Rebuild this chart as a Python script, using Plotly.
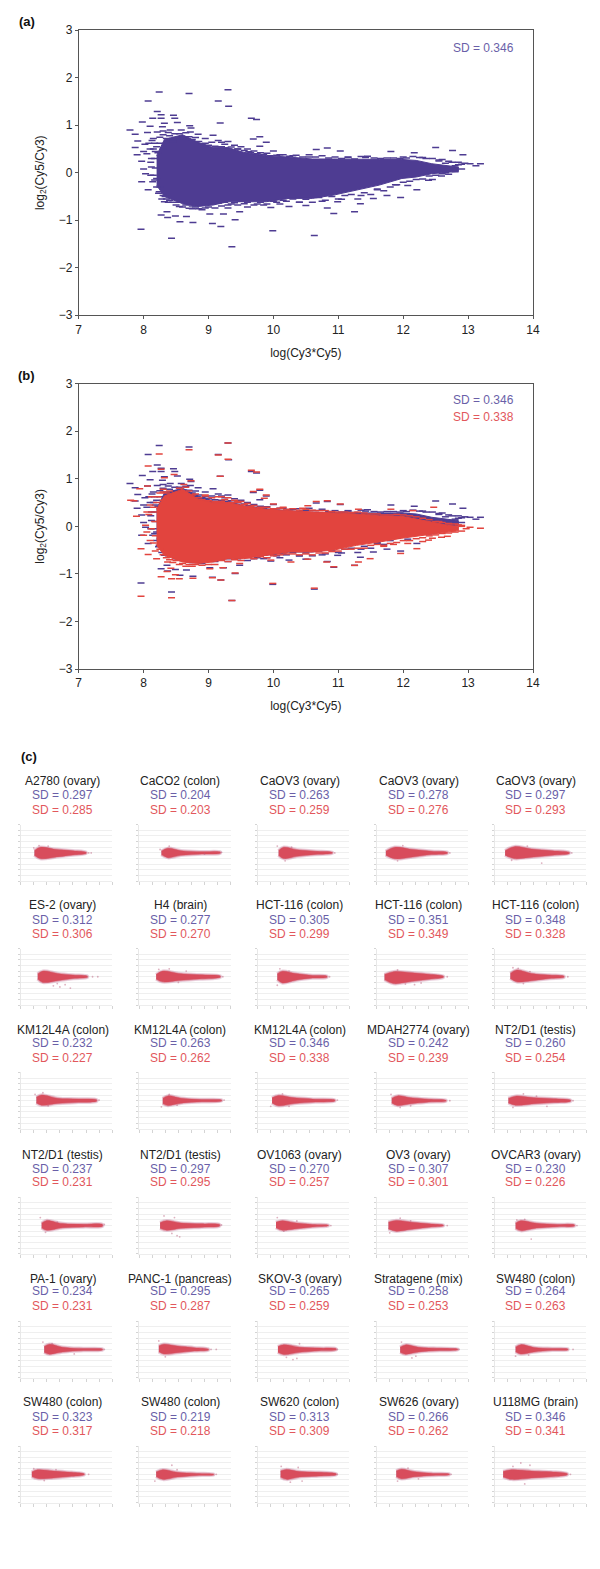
import plotly.graph_objects as go

W, H = 600, 1569
BLUE = "#4e3c92"
RED = "#e2443e"
BLUE_T = "#6a5fa8"
RED_T = "#e2575c"
P_RED = "#d84c5c"

# ---------- panels (a) and (b): dense cloud outlines ----------
blue_env_x = [8.2, 8.32, 8.6, 8.84, 9.07, 9.3, 9.54, 9.89, 10.24, 10.6, 10.93, 11.28, 11.63, 11.98, 12.2, 12.44, 12.68, 12.85]
blue_env_up = [0.36, 0.70, 0.80, 0.64, 0.53, 0.53, 0.43, 0.36, 0.33, 0.29, 0.29, 0.28, 0.28, 0.28, 0.26, 0.19, 0.15, 0.12]
blue_env_lo = [-0.26, -0.50, -0.65, -0.71, -0.68, -0.61, -0.61, -0.61, -0.54, -0.54, -0.47, -0.37, -0.26, -0.12, -0.09, -0.02, 0.01, 0.03]

red_env_x = [8.2, 8.32, 8.6, 8.84, 9.07, 9.3, 9.54, 9.89, 10.24, 10.6, 10.93, 11.28, 11.63, 11.98, 12.2, 12.44, 12.68, 12.85]
red_env_up = [0.36, 0.64, 0.78, 0.57, 0.50, 0.50, 0.43, 0.36, 0.33, 0.30, 0.28, 0.26, 0.22, 0.21, 0.16, 0.09, 0.02, 0.00]
red_env_lo = [-0.40, -0.61, -0.75, -0.78, -0.75, -0.68, -0.68, -0.61, -0.54, -0.54, -0.50, -0.40, -0.33, -0.25, -0.20, -0.16, -0.12, -0.09]

# ---------- panels (a) and (b): individual outlying spots ----------
blue_x = [8.24, 8.70, 9.30, 9.15, 8.07, 9.31, 8.21, 8.27, 8.46, 8.48, 8.27, 8.14, 9.66, 9.74, 7.98, 8.32, 9.18, 8.52, 8.10, 8.29,
          8.71, 8.73, 7.79, 8.21, 8.06, 7.87, 8.41, 8.58, 8.72, 8.84, 9.07, 9.79, 9.69, 9.89, 9.79, 10.0, 10.66, 10.83, 11.03, 11.81,
          12.17, 12.5, 12.76, 12.92, 13.03, 13.19, 13.12, 12.85, 7.96, 8.43, 9.36, 9.99, 10.63, 8.27, 8.36, 8.37, 8.49, 8.56, 8.76, 8.66,
          9.06, 9.19, 9.41, 9.02, 9.23, 9.48, 10.93, 11.25, 10.83, 10.99, 11.34, 10.5, 10.24, 9.96, 11.96, 12.21, 12.07, 11.75, 11.54, 12.39,
          12.59, 7.97, 8.07, 8.0, 8.03, 7.9, 7.87, 7.91, 7.97, 8.11, 8.11, 8.14, 8.23, 8.32, 8.55, 8.75,
          8.02, 8.15, 8.18, 8.12, 8.2, 8.3, 8.38, 8.45, 8.62, 8.95, 9.2, 9.45, 9.62, 10.1, 10.3, 10.55, 11.15, 11.42, 12.0, 12.3,
          12.55, 12.7, 12.9, 12.65, 12.45, 11.88, 11.6, 11.35, 11.05, 10.75, 10.4, 10.1, 9.75, 9.6, 9.3, 8.9]
blue_y = [1.70, 1.67, 1.75, 1.51, 1.51, 1.40, 1.29, 1.22, 1.21, 1.15, 1.15, 1.15, 1.15, 1.12, 1.07, 1.04, 1.05, 1.06, 0.98, 0.97,
          0.99, 0.94, 0.90, 0.86, 0.85, 0.81, 0.90, 0.90, 0.86, 0.81, 0.79, 0.76, 0.71, 0.64, 0.56, 0.46, 0.49, 0.52, 0.46, 0.45,
          0.42, 0.53, 0.47, 0.38, 0.19, 0.19, 0.15, 0.17, -1.19, -1.38, -1.56, -1.22, -1.32, -0.89, -0.82, -0.94, -0.91, -1.03, -1.05, -0.92,
          -1.07, -1.13, -0.99, -0.87, -0.87, -0.82, -0.86, -0.82, -0.74, -0.61, -0.65, -0.69, -0.71, -0.73, -0.52, -0.36, -0.27, -0.48, -0.54, -0.16,
          -0.07, -0.19, -0.36, 0.08, -0.02, 0.38, 0.53, 0.67, 0.24, 0.22, -0.05, -0.19, -0.43, -0.61, -0.71, -0.76,
          0.60, 0.72, 0.45, 0.30, -0.12, 0.88, -0.62, 0.72, 0.76, 0.62, 0.64, 0.50, 0.44, 0.38, 0.36, 0.33, 0.33, 0.32, 0.33, 0.32,
          0.27, 0.24, 0.18, 0.00, -0.14, -0.25, -0.36, -0.48, -0.56, -0.60, -0.62, -0.66, -0.66, -0.72, -0.74, -0.78]

blue_edge_x = [8.25, 8.3, 8.35, 8.4, 8.45, 8.5, 8.55, 8.6, 8.65, 8.7, 8.75, 8.8, 8.85, 8.9, 8.95, 9.0, 9.05, 9.1, 9.15, 9.2, 9.25, 9.3, 9.35, 9.4, 9.45, 9.5, 9.55, 9.6, 9.65, 9.7, 9.75, 9.8, 9.85, 9.9, 9.95, 10.05, 10.15, 10.25, 10.35, 10.45, 10.55, 10.65, 10.75, 10.85, 10.95, 11.05, 11.15, 11.25, 11.35, 11.45, 11.55, 11.65, 11.75, 11.85, 11.95, 12.05, 12.15, 12.25, 12.35, 12.45, 12.55, 12.6, 12.65, 12.75, 12.8, 12.85, 12.95,
               8.25, 8.3, 8.35, 8.4, 8.45, 8.5, 8.55, 8.6, 8.65, 8.7, 8.75, 8.8, 8.85, 8.9, 8.95, 9.0, 9.05, 9.1, 9.15, 9.2, 9.25, 9.3, 9.35, 9.4, 9.45, 9.5, 9.55, 9.6, 9.7, 9.8, 9.85, 9.9, 10.0, 10.05, 10.15, 10.2, 10.3, 10.4, 10.5, 10.6, 10.7, 10.8, 10.9, 11.0, 11.1, 11.2, 11.3, 11.4, 11.5, 11.6, 11.7, 11.8, 11.9, 12.0, 12.1, 12.2, 12.3, 12.4, 12.5, 12.6, 12.7, 12.8, 12.9,
               8.15, 8.17, 8.18, 8.15, 8.17, 8.12, 8.2, 8.22, 8.2, 8.05, 8.1, 8.0, 8.08, 8.13, 8.17, 8.25, 8.3, 8.38, 8.48, 8.24, 8.28, 8.33]
blue_edge_y = [0.62, 0.5, 0.72, 0.78, 0.66, 0.74, 0.82, 0.72, 0.84, 0.76, 0.7, 0.74, 0.66, 0.6, 0.72, 0.58, 0.64, 0.56, 0.68, 0.55, 0.6, 0.66, 0.54, 0.58, 0.5, 0.55, 0.47, 0.5, 0.42, 0.46, 0.4, 0.42, 0.38, 0.41, 0.36, 0.37, 0.38, 0.35, 0.37, 0.33, 0.38, 0.33, 0.36, 0.31, 0.33, 0.3, 0.32, 0.29, 0.34, 0.35, 0.31, 0.3, 0.31, 0.31, 0.3, 0.31, 0.34, 0.32, 0.3, 0.3, 0.25, 0.28, 0.2, 0.22, 0.15, 0.22, 0.2,
               -0.3, -0.48, -0.55, -0.58, -0.62, -0.68, -0.62, -0.72, -0.68, -0.75, -0.7, -0.72, -0.76, -0.68, -0.74, -0.72, -0.66, -0.74, -0.64, -0.7, -0.62, -0.68, -0.66, -0.63, -0.68, -0.6, -0.65, -0.62, -0.68, -0.62, -0.68, -0.66, -0.6, -0.62, -0.58, -0.6, -0.55, -0.62, -0.56, -0.62, -0.52, -0.58, -0.5, -0.55, -0.48, -0.46, -0.55, -0.42, -0.46, -0.34, -0.38, -0.3, -0.25, -0.2, -0.18, -0.14, -0.13, -0.07, -0.05, -0.02, -0.03, 0.02, 0.08,
               0.5, 0.3, 0.1, -0.05, -0.15, 0.12, 0.55, 0.42, -0.3, 0.4, 0.5, 0.45, 0.62, 0.68, 0.62, 0.75, 0.8, 0.85, 0.82, -0.4, -0.55, -0.5]

red_x = [9.30, 9.15, 9.30, 8.70, 8.24, 8.07, 9.66, 9.74, 9.18, 8.27, 8.47, 8.32, 8.73, 8.06, 7.94, 9.69, 9.79, 9.89, 9.86, 7.85,
         7.80, 7.89, 8.03, 8.00, 7.96, 8.07, 8.20, 8.37, 8.27, 8.36, 8.49, 8.55, 8.76, 8.43, 7.96, 8.43, 9.36, 9.99, 10.63, 10.93,
         11.25, 11.31, 11.49, 10.82, 10.53, 10.27, 9.96, 9.48, 9.41, 9.19, 9.06, 9.02, 9.22, 11.96, 12.21, 12.07, 12.39, 12.59, 12.68, 13.03,
         13.19, 12.90, 12.76, 12.97, 12.53, 12.47, 11.81, 12.15, 11.31, 10.83, 11.03, 10.66, 10.53, 10.0,
         8.12, 8.15, 8.05, 8.1, 8.18, 8.3, 8.42, 8.62, 8.95, 9.2, 9.45, 10.15, 10.45, 11.7, 11.85, 12.3, 12.45, 12.55, 12.7, 12.85]
red_y = [1.75, 1.50, 1.41, 1.61, 1.52, 1.27, 1.18, 1.14, 1.05, 1.20, 1.09, 1.02, 0.96, 0.85, 0.79, 0.73, 0.78, 0.66, 0.59, 0.54,
         0.55, 0.21, 0.02, -0.19, -0.47, -0.59, -0.68, -0.75, -1.06, -0.95, -1.02, -1.10, -1.09, -1.10, -1.47, -1.50, -1.56, -1.20, -1.30, -0.85,
         -0.82, -0.75, -0.68, -0.75, -0.69, -0.75, -0.71, -0.78, -0.98, -1.13, -1.08, -0.89, -0.87, -0.57, -0.47, -0.36, -0.29, -0.23, -0.21, -0.02,
         -0.04, 0.00, -0.09, -0.05, -0.02, 0.40, 0.36, 0.33, 0.36, 0.54, 0.47, 0.52, 0.43, 0.47,
         0.62, 0.40, 0.30, -0.30, -0.52, 0.78, -0.88, 0.88, 0.64, 0.62, 0.52, 0.40, 0.38, -0.42, -0.38, -0.32, -0.25, 0.10, 0.06, 0.03]

red_edge_x = [8.3, 8.35, 8.4, 8.45, 8.5, 8.55, 8.6, 8.65, 8.7, 8.75, 8.8, 8.85, 8.9, 8.95, 9.0, 9.05, 9.1, 9.15, 9.2, 9.25, 9.3, 9.35, 9.4, 9.45, 9.5, 9.55, 9.6, 9.65, 9.7, 9.8, 9.9, 10.0, 10.1, 10.2, 10.3, 10.4, 10.5, 10.6, 10.7, 10.8, 10.9, 11.0, 11.1, 11.2, 11.3, 11.4, 11.5, 11.6, 11.7, 11.8, 11.9, 12.0, 12.1, 12.2, 12.3, 12.4, 12.5, 12.6, 12.7, 12.8, 12.9,
              8.25, 8.3, 8.35, 8.4, 8.45, 8.5, 8.55, 8.6, 8.65, 8.7, 8.75, 8.8, 8.9, 9.0, 9.1, 9.2, 9.3, 9.4, 9.5, 9.6, 9.7, 9.8, 9.9, 10.0, 10.1, 10.2, 10.3, 10.4, 10.5, 10.6, 10.7, 10.8, 10.9, 11.0, 11.1, 11.2, 11.3, 11.4, 11.5, 11.6, 11.7, 11.8, 11.9, 12.0, 12.1, 12.2, 12.3, 12.4, 12.5, 12.6, 12.7, 12.8, 12.9,
              8.1, 8.15, 8.17, 8.12, 8.18, 8.15, 8.2, 8.05, 8.08, 8.22, 8.25, 8.3]
red_edge_y = [0.55, 0.7, 0.74, 0.62, 0.7, 0.8, 0.7, 0.82, 0.74, 0.66, 0.68, 0.6, 0.56, 0.66, 0.54, 0.6, 0.52, 0.62, 0.52, 0.56, 0.6, 0.5, 0.55, 0.5, 0.52, 0.46, 0.48, 0.42, 0.44, 0.4, 0.4, 0.37, 0.38, 0.36, 0.37, 0.34, 0.36, 0.34, 0.33, 0.33, 0.31, 0.3, 0.3, 0.29, 0.3, 0.28, 0.26, 0.26, 0.24, 0.24, 0.25, 0.24, 0.22, 0.2, 0.17, 0.14, 0.1, 0.08, 0.05, 0.05, 0.02,
              -0.48, -0.6, -0.66, -0.7, -0.76, -0.72, -0.8, -0.78, -0.84, -0.8, -0.84, -0.8, -0.82, -0.8, -0.8, -0.72, -0.74, -0.7, -0.72, -0.66, -0.68, -0.64, -0.66, -0.62, -0.6, -0.58, -0.58, -0.6, -0.58, -0.6, -0.56, -0.56, -0.53, -0.52, -0.48, -0.48, -0.46, -0.46, -0.4, -0.38, -0.4, -0.36, -0.34, -0.3, -0.3, -0.26, -0.24, -0.2, -0.18, -0.15, -0.14, -0.12, -0.1,
              0.45, 0.3, 0.1, -0.05, -0.2, -0.35, 0.5, -0.12, 0.25, 0.62, 0.7, 0.72]

axis_ticks_x = [7, 8, 9, 10, 11, 12, 13, 14]
axis_ticks_y = [-3, -2, -1, 0, 1, 2, 3]
panel_ticks_y = [-2.5, -2, -1.5, -1, -0.5, 0, 0.5, 1, 1.5, 2, 2.5]

# ---------- panel (c) ----------
names = ["A2780 (ovary)", "CaCO2 (colon)", "CaOV3 (ovary)", "CaOV3 (ovary)", "CaOV3 (ovary)",
         "ES-2 (ovary)", "H4 (brain)", "HCT-116 (colon)", "HCT-116 (colon)", "HCT-116 (colon)",
         "KM12L4A (colon)", "KM12L4A (colon)", "KM12L4A (colon)", "MDAH2774 (ovary)", "NT2/D1 (testis)",
         "NT2/D1 (testis)", "NT2/D1 (testis)", "OV1063 (ovary)", "OV3 (ovary)", "OVCAR3 (ovary)",
         "PA-1 (ovary)", "PANC-1 (pancreas)", "SKOV-3 (ovary)", "Stratagene (mix)", "SW480 (colon)",
         "SW480 (colon)", "SW480 (colon)", "SW620 (colon)", "SW626 (ovary)", "U118MG (brain)"]
sd_blue = ["0.297", "0.204", "0.263", "0.278", "0.297", "0.312", "0.277", "0.305", "0.351", "0.348",
           "0.232", "0.263", "0.346", "0.242", "0.260", "0.237", "0.297", "0.270", "0.307", "0.230",
           "0.234", "0.295", "0.265", "0.258", "0.264", "0.323", "0.219", "0.313", "0.266", "0.346"]
sd_red = ["0.285", "0.203", "0.259", "0.276", "0.293", "0.306", "0.270", "0.299", "0.349", "0.328",
          "0.227", "0.262", "0.338", "0.239", "0.254", "0.231", "0.295", "0.257", "0.301", "0.226",
          "0.231", "0.287", "0.259", "0.253", "0.263", "0.317", "0.218", "0.309", "0.262", "0.341"]

blob_x = [[8.05, 8.5, 9.6, 11.0, 12.0], [8.7, 9.2, 10.2, 11.8, 13.2], [8.6, 9.0, 10, 11.4, 12.7], [7.7, 8.4, 9.6, 11.2, 12.4], [7.8, 8.5, 9.8, 11.4, 12.7],
          [8.3, 8.7, 9.8, 11.0, 12.1], [8.3, 8.8, 10, 11.6, 13.2], [8.5, 8.9, 9.9, 11.2, 12.3], [7.6, 8.3, 9.7, 11.0, 12.1], [8.2, 8.7, 9.8, 11.2, 12.3],
          [8.2, 8.6, 9.8, 11.4, 12.8], [8.8, 9.2, 10.2, 11.8, 13.3], [8.1, 8.6, 9.8, 11.4, 12.9], [8.15, 8.6, 9.6, 11, 12.3], [8.05, 8.6, 10, 11.5, 12.8],
          [8.6, 9, 10.2, 11.8, 13.25], [8.6, 9.1, 10.2, 11.8, 13.15], [8.4, 8.9, 9.8, 11.2, 12.4], [7.9, 8.5, 9.7, 11, 12.1], [8.6, 9.0, 10.2, 11.8, 13.1],
          [8.8, 9.2, 10.2, 11.8, 13.25], [8.5, 8.9, 9.9, 11.2, 12.3], [8.55, 9.0, 10.2, 11.7, 13], [8.8, 9.2, 10.2, 11.8, 13.2], [8.6, 9.0, 10, 11.4, 12.6],
          [7.85, 8.3, 9.5, 10.9, 11.85], [8.3, 8.8, 9.9, 11.4, 12.7], [8.75, 9.2, 10.2, 11.7, 13], [8.5, 8.9, 9.9, 11.3, 12.55], [7.65, 8.3, 9.8, 11.3, 12.55]]
blob_up = [[.2, .5, .33, .2, .05], [.15, .4, .2, .1, .07], [.2, .5, .28, .15, .05], [.15, .5, .33, .15, .05], [.2, .55, .35, .2, .04],
           [.25, .5, .3, .15, .05], [.2, .5, .3, .18, .07], [.25, .48, .28, .12, .05], [.2, .45, .35, .22, .05], [.3, .6, .3, .15, .05],
           [.3, .5, .22, .15, .08], [.2, .42, .22, .1, .05], [.25, .45, .25, .13, .05], [.2, .42, .25, .12, .03], [.2, .4, .25, .17, .05],
           [.2, .45, .17, .12, .1], [.25, .42, .22, .15, .08], [.3, .42, .25, .1, .03], [.3, .45, .3, .15, .03], [.2, .42, .2, .1, .05],
           [.25, .45, .2, .08, .03], [.3, .45, .3, .15, .02], [.25, .42, .2, .12, .05], [.2, .4, .2, .1, .03], [.2, .42, .18, .08, .03],
           [.2, .4, .3, .17, .04], [.2, .4, .18, .08, .0], [.3, .42, .25, .18, .05], [.3, .45, .22, .08, .02], [.25, .4, .3, .22, .05]]
blob_lo = [[-.2, -.5, -.38, -.18, -.05], [-.15, -.42, -.22, -.1, -.04], [-.2, -.5, -.3, -.14, -.04], [-.2, -.52, -.38, -.15, -.05], [-.2, -.5, -.38, -.2, -.05],
           [-.2, -.5, -.35, -.15, -.05], [-.2, -.45, -.32, -.2, -.05], [-.25, -.55, -.3, -.12, -.04], [-.25, -.6, -.4, -.22, -.05], [-.15, -.45, -.35, -.15, -.05],
           [-.2, -.4, -.25, -.15, -.06], [-.25, -.42, -.22, -.1, -.02], [-.2, -.45, -.25, -.13, -.03], [-.2, -.42, -.28, -.12, -.04], [-.2, -.4, -.27, -.17, -.05],
           [-.2, -.42, -.2, -.12, -.06], [-.25, -.42, -.25, -.15, -.05], [-.2, -.42, -.3, -.12, -.03], [-.3, -.5, -.32, -.15, -.03], [-.25, -.45, -.22, -.1, -.04],
           [-.25, -.42, -.22, -.1, -.05], [-.2, -.4, -.3, -.15, -.05], [-.25, -.45, -.25, -.12, -.04], [-.25, -.42, -.22, -.1, -.03], [-.2, -.4, -.22, -.08, -.04],
           [-.2, -.38, -.32, -.18, -.04], [-.2, -.45, -.25, -.1, -.05], [-.25, -.45, -.25, -.15, -.04], [-.2, -.4, -.22, -.1, -.04], [-.25, -.45, -.33, -.22, -.05]]

speck_x = [[8.0, 8.4, 9.1, 12.2, 12.4], [8.6, 9.3, 12.0, 13.3], [8.5, 9.1, 9.6, 12.9], [8.6, 9.0, 12.6], [8.3, 9.5, 10.6, 12.9],
           [9.5, 10.0, 10.4, 9.8, 10.8, 12.5, 12.9], [8.5, 9.3, 10.0, 13.4, 10.6], [8.7, 8.5, 9.4, 12.5], [8.6, 9.2, 9.9, 10.4, 12.4], [8.4, 8.8, 9.2, 9.7, 12.6],
           [8.1, 8.7, 9.1, 13.0], [8.7, 9.3, 9.9, 13.5], [8.0, 8.9, 9.4, 13.1], [8.1, 8.8, 9.6, 12.6], [8.4, 9.2, 10.2, 11.0, 13.0],
           [8.5, 8.9, 9.8, 13.4], [8.9, 9.5, 9.9, 10.1, 9.7, 13.3], [8.5, 9.0, 10.0, 12.6], [8.0, 8.8, 9.6, 12.4], [8.7, 9.3, 9.8, 13.3],
           [8.7, 9.4, 11.1, 13.4], [8.5, 9.0, 12.5, 12.9], [9.2, 9.7, 10.0, 10.2, 13.1], [8.9, 9.7, 10.0, 13.3], [8.6, 9.6, 13.0],
           [8.0, 8.8, 9.7, 12.2], [8.2, 9.5, 9.9, 12.9], [8.8, 9.5, 10.1, 10.4, 13.1], [8.6, 9.4, 10.2, 12.7], [8.4, 9.0, 9.3, 9.7, 12.8]]
speck_y = [[0.45, 0.65, 0.6, 0.0, 0.0], [0.3, 0.6, -0.1, 0.05], [0.6, -0.7, 0.5, 0.0], [-0.7, 0.65, 0.0], [-0.65, 0.6, -0.9, 0.0],
           [-0.8, -0.9, -0.7, -0.6, -1.0, 0.0, 0.0], [0.65, 0.7, -0.5, 0.0, 0.5], [0.7, -0.75, 0.5, 0.0], [0.6, -0.65, -0.7, -0.55, 0.0], [0.8, 0.75, -0.6, 0.45, 0.0],
           [0.55, 0.7, -0.45, 0.05], [-0.55, 0.55, -0.4, 0.05], [-0.5, 0.6, -0.5, 0.05], [0.55, -0.6, -0.45, 0.0], [-0.6, 0.6, 0.4, -0.5, 0.0],
           [0.7, -0.6, 0.3, 0.1], [0.85, -0.7, -0.9, -1.0, 0.7, 0.05], [0.7, -0.5, 0.4, 0.0], [-0.65, 0.65, 0.4, 0.0], [0.5, 0.55, -1.2, 0.0],
           [0.65, 0.5, -0.4, 0.0], [0.75, -0.65, 0.0, 0.0], [-0.7, -0.9, -0.8, 0.5, 0.0], [0.65, -0.75, -0.6, 0.0], [-0.6, -0.5, 0.0],
           [0.5, -0.55, 0.4, 0.0], [-0.6, 0.8, 0.4, 0.0], [0.7, -0.7, 0.6, -0.6, 0.0], [-0.6, 0.55, -0.4, 0.0], [0.7, 1.0, -0.85, 0.8, 0.0]]

col_left = [18, 138.5, 259, 380, 500]
col_center = [61, 180, 302, 423, 542]
row_top = [825, 950, 1075, 1201, 1326, 1452]
row_name = [781, 906, 1032, 1158, 1283, 1408]
row_blue = [795, 921, 1045, 1172, 1296, 1423]
row_red = [810, 935, 1060, 1186, 1311, 1437]

fig = go.Figure()
layout = {}
annos = []


def dom(left, right, top, bottom):
    return [left / W, right / W], [1 - bottom / H, 1 - top / H]


def add_axes(n, left, right, top, bottom, xa, ya):
    dx, dy = dom(left, right, top, bottom)
    s = "" if n == 1 else str(n)
    layout["xaxis" + s] = dict(domain=dx, anchor="y" + s, **xa)
    layout["yaxis" + s] = dict(domain=dy, anchor="x" + s, **ya)
    return "x" + s, "y" + s


def text(x, y, s, size=12, color="#222222", bold=False):
    annos.append(dict(xref="paper", yref="paper", x=x / W, y=1 - y / H, text=("<b>%s</b>" % s) if bold else s,
                      showarrow=False, xanchor="center", yanchor="middle",
                      font=dict(size=size, color=color, family="Liberation Sans")))


def env(xs, up, lo):
    return list(xs) + list(xs)[::-1], list(up) + list(lo)[::-1]


def main_axes(n, top, bottom):
    tf = dict(size=12, color="#222222")
    xa = dict(range=[7, 14], tickvals=axis_ticks_x, showgrid=False, zeroline=False, ticks="outside", ticklen=3,
              tickcolor="#555555", linecolor="#555555", linewidth=1, mirror=True, tickfont=tf,
              title=dict(text="log(Cy3*Cy5)", standoff=12, font=tf))
    ya = dict(range=[-3, 3], tickvals=axis_ticks_y, showgrid=False, zeroline=False, ticks="outside", ticklen=3,
              tickcolor="#555555", linecolor="#555555", linewidth=1, mirror=True, tickfont=tf,
              title=dict(text="log<sub>2</sub>(Cy5/Cy3)", standoff=11, font=tf))
    return add_axes(n, 77, 539, top, bottom, xa, ya)


def cloud(xr, yr, ex, eu, el, sx, sy, color):
    px, py = env(ex, eu, el)
    fig.add_trace(go.Scatter(x=px, y=py, xaxis=xr, yaxis=yr, mode="lines", fill="toself", fillcolor=color,
                             line=dict(color=color, width=1), hoverinfo="skip", showlegend=False))
    fig.add_trace(go.Scatter(x=sx, y=sy, xaxis=xr, yaxis=yr, mode="markers",
                             marker=dict(symbol="line-ew", size=5, line=dict(color=color, width=1.5)),
                             hoverinfo="skip", showlegend=False))


xa1, ya1 = main_axes(1, 23.5, 311)
cloud(xa1, ya1, blue_env_x, blue_env_up, blue_env_lo, blue_x + blue_edge_x, blue_y + blue_edge_y, BLUE)
xa2, ya2 = main_axes(2, 380, 668)
cloud(xa2, ya2, blue_env_x, blue_env_up, blue_env_lo, blue_x + blue_edge_x, blue_y + blue_edge_y, BLUE)
cloud(xa2, ya2, red_env_x, red_env_up, red_env_lo, red_x + red_edge_x, red_y + red_edge_y, RED)

text(24, 15, "(a)", 13, "#111111", True)
text(24, 372, "(b)", 13, "#111111", True)
text(26, 756, "(c)", 13, "#111111", True)
text(489, 41, "SD = 0.346", 12, BLUE_T)
text(489, 397, "SD = 0.346", 12, BLUE_T)
text(489, 414, "SD = 0.338", 12, RED_T)

for i, name in enumerate(names):
    r, c = divmod(i, 5)
    left = col_left[c]
    top = row_top[r]
    xa = dict(range=[7, 14], tickvals=axis_ticks_x, showgrid=False, zeroline=False, showticklabels=False, ticks="outside",
              ticklen=3, tickcolor="#d4d4d4", tickwidth=1, linecolor="#ededed", linewidth=1)
    ya = dict(range=[-2.5, 2.5], tickvals=panel_ticks_y, showgrid=True, gridcolor="#efefef", gridwidth=1, zeroline=False,
              showticklabels=False, ticks="outside", ticklen=2, tickcolor="#d4d4d4", tickwidth=1,
              linecolor="#e8e8e8", linewidth=1)
    xr, yr = add_axes(3 + i, left, left + 93, top, top + 57, xa, ya)
    px, py = env(blob_x[i], blob_up[i], blob_lo[i])
    shape = dict(shape="spline", smoothing=1)
    fig.add_trace(go.Scatter(x=px, y=py, xaxis=xr, yaxis=yr, mode="lines", fill="toself",
                             fillcolor="rgba(90,70,150,0.4)", line=dict(color="rgba(190,110,150,0.32)", width=3.5, **shape),
                             hoverinfo="skip", showlegend=False))
    fig.add_trace(go.Scatter(x=px, y=py, xaxis=xr, yaxis=yr, mode="lines", fill="toself", fillcolor=P_RED,
                             line=dict(color="rgba(217,80,94,0.5)", width=1.5, **shape), hoverinfo="skip", showlegend=False))
    fig.add_trace(go.Scatter(x=speck_x[i], y=speck_y[i], xaxis=xr, yaxis=yr, mode="markers",
                             marker=dict(size=1.8, color="rgba(190,100,130,0.5)"), hoverinfo="skip", showlegend=False))
    cx = col_center[c]
    text(cx, row_name[r], name, 12, "#222222")
    text(cx, row_blue[r], "SD = " + sd_blue[i], 12, BLUE_T)
    text(cx, row_red[r], "SD = " + sd_red[i], 12, RED_T)

fig.update_layout(width=W, height=H, margin=dict(l=0, r=0, t=0, b=0), paper_bgcolor="white", plot_bgcolor="white",
                  font=dict(family="Liberation Sans", size=12), showlegend=False, annotations=annos, **layout)
fig.write_html("out.html", config={"displayModeBar": False},
               post_script="document.body.style.margin='0';document.documentElement.style.overflow='hidden';")
